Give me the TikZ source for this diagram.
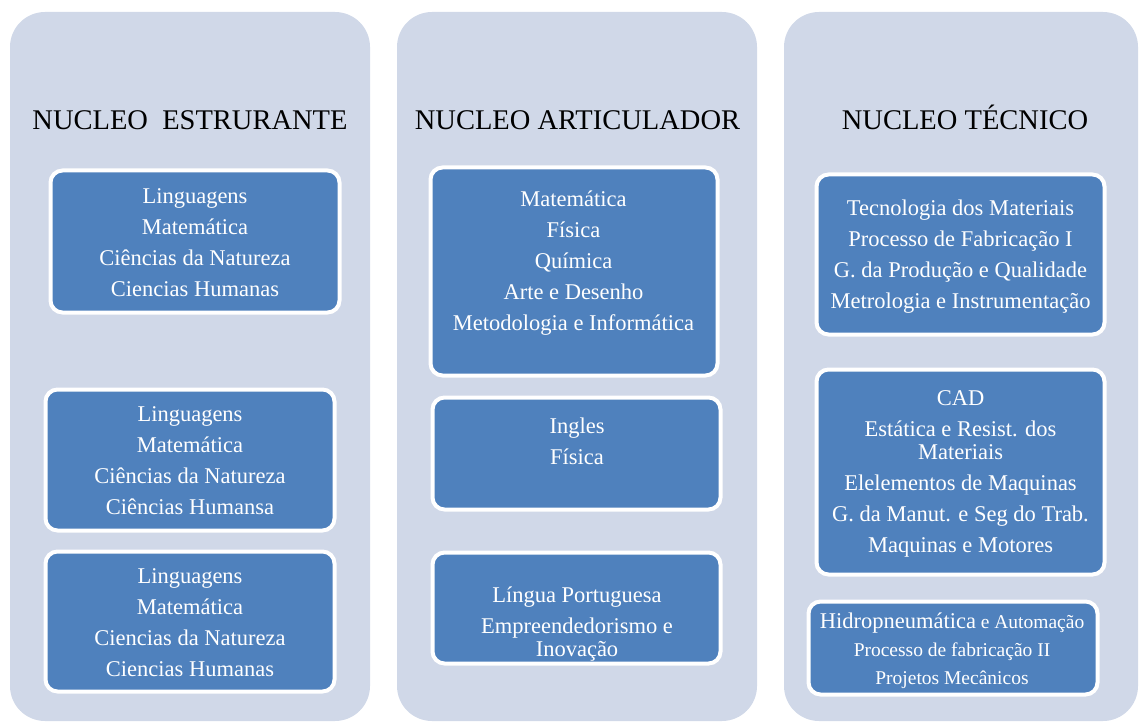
\documentclass[tikz,border=0pt]{standalone}
\usepackage{fontspec}
\setmainfont{Liberation Serif}
\definecolor{panelgray}{HTML}{D0D8E8}
\definecolor{boxblue}{HTML}{4F81BD}
\tikzset{
  panel/.style={fill=panelgray, rounded corners=35pt, minimum width=360pt, minimum height=709pt, inner sep=0pt},
  title/.style={anchor=base, font=\fontsize{28.5}{34}\selectfont},
  bluebox/.style={fill=boxblue, draw=white, line width=4pt, rounded corners=12pt, inner sep=0pt},
  boxtext/.style={text=white, align=center, font=\fontsize{22.5}{31}\selectfont},
}
\begin{document}
\begin{tikzpicture}[x=1pt, y=-1pt]
\useasboundingbox (0,0) rectangle (1139,722);

% panels
\node (panA) at (190, 366.5) [panel] {};
\node (panB) at (577, 366.5) [panel] {};
\node (panC) at (961, 366.5) [panel, minimum width=354pt] {};

\node (titA) at (190, 130) [title] {NUCLEO\ \ ESTRURANTE};
\node (titB) at (577.5, 130) [title] {NUCLEO ARTICULADOR};
\node (titC) at (965, 130) [title] {NUCLEO TÉCNICO};

% nucleo estruturante
\node (a1) at (195, 241.5) [bluebox, minimum width=289pt, minimum height=142pt] {};
\node (a2) at (190, 460) [bluebox, minimum width=289pt, minimum height=141pt] {};
\node (a3) at (190, 621.5) [bluebox, minimum width=289pt, minimum height=140pt] {};
\node (ta1) at (195, 243) [boxtext] {Linguagens\\Matemática\\Ciências da Natureza\\Ciencias Humanas};
\node (ta2) at (190, 460.5) [boxtext] {Linguagens\\Matemática\\Ciências da Natureza\\Ciências Humansa};
\node (ta3) at (190, 623) [boxtext] {Linguagens\\Matemática\\Ciencias da Natureza\\Ciencias Humanas};

% nucleo articulador
\node (b1) at (574, 271.5) [bluebox, minimum width=287pt, minimum height=208pt] {};
\node (b2) at (576.5, 453.5) [bluebox, minimum width=288pt, minimum height=112pt] {};
\node (b3) at (576.5, 608) [bluebox, minimum width=288pt, minimum height=111pt] {};
\node (tb1) at (573.5, 263.5) [boxtext] {Matemática\\Física\\Química\\Arte e Desenho\\Metodologia e Informática};
\node (tb2) at (577, 441.5) [boxtext] {Ingles\\Física};
\node (tb3) at (577, 624) [boxtext] {Língua Portuguesa\\Empreendedorismo e\\[-8pt]Inovação};

% nucleo tecnico
\node (c1) at (960.5, 254.5) [bluebox, minimum width=288pt, minimum height=160pt] {};
\node (c2) at (960.5, 472) [bluebox, minimum width=288pt, minimum height=205pt] {};
\node (c3) at (953, 648) [bluebox, minimum width=289pt, minimum height=93pt] {};
\node (tc1) at (960.5, 257) [boxtext] {Tecnologia dos Materiais\\Processo de Fabricação I\\G. da Produção e Qualidade\\Metrologia e Instrumentação};
\node (tc2) at (960.5, 474) [boxtext] {CAD\\Estática e Resist. dos\\[-8pt]Materiais\\Elelementos de Maquinas\\G. da Manut. e Seg do Trab.\\Maquinas e Motores};
\node (tc3) at (952, 651) [boxtext, font=\fontsize{19.5}{28}\selectfont] {{\fontsize{22.5}{28}\selectfont Hidropneumática} e Automação\\Processo de fabricação II\\Projetos Mecânicos};
\end{tikzpicture}
\end{document}
